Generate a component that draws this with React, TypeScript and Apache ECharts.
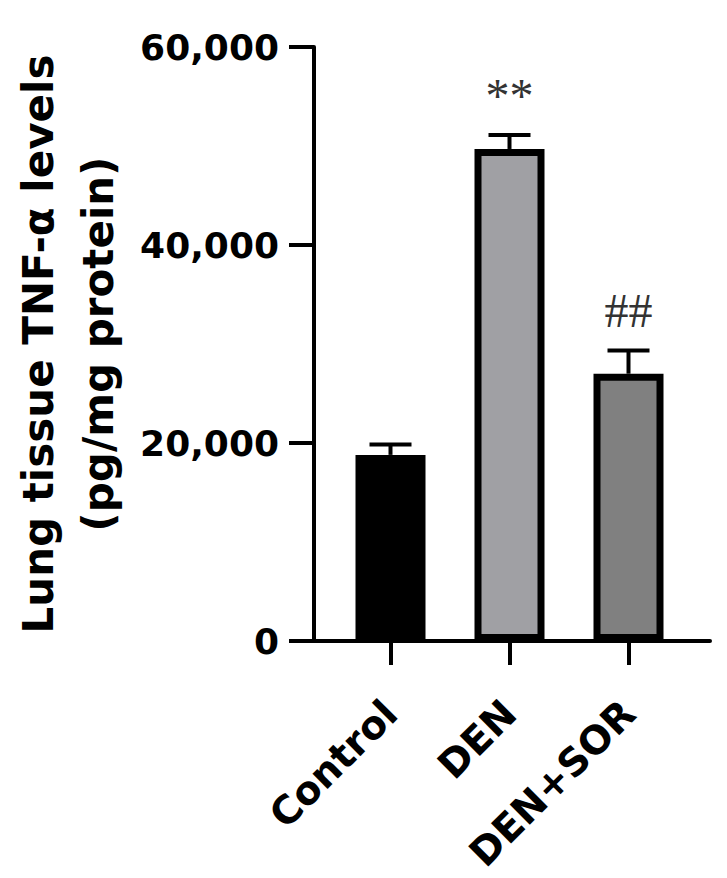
import React, { useEffect, useRef } from "react";
import * as echarts from "echarts";

const categories = ["Control", "DEN", "DEN+SOR"];
const means = [18800, 49700, 27000];
const sems = [1050, 1400, 2350];
const annotations = ["", "**", "##"];
const barColors = ["#000000", "#a0a0a4", "#808080"];
const yTicks = { min: 0, max: 60000, interval: 20000 };
const yTitle = "Lung tissue TNF-α levels\n(pg/mg protein)";

const SANS = "DejaVu Sans";
const SERIF = "Liberation Serif";

export default function App() {
  const ref = useRef<HTMLDivElement>(null);
  useEffect(() => {
    if (!ref.current) return;
    const chart = echarts.init(ref.current, undefined, { renderer: "svg" });
    const option: any = {
      animation: false,
      backgroundColor: "#ffffff",
      grid: [
        { left: 312, width: 398, top: 47, height: 594 },
        { left: 331, width: 357, top: 47, height: 594 },
      ],
      xAxis: [
        {
          gridIndex: 0,
          type: "value",
          min: 0,
          max: 1,
          axisLine: { show: true, lineStyle: { color: "#000", width: 4 } },
          axisTick: { show: false },
          axisLabel: { show: false },
          splitLine: { show: false },
        },
        {
          gridIndex: 1,
          type: "category",
          data: categories,
          axisLine: { show: false },
          axisTick: {
            show: true,
            alignWithLabel: true,
            length: 24,
            lineStyle: { color: "#000", width: 4 },
          },
          axisLabel: {
            rotate: 45,
            margin: 66,
            interval: 0,
            color: "#000",
            fontFamily: SANS,
            fontWeight: "bold",
            fontSize: 39,
          },
          splitLine: { show: false },
        },
      ],
      yAxis: [
        {
          gridIndex: 0,
          type: "value",
          min: yTicks.min,
          max: yTicks.max,
          interval: yTicks.interval,
          axisLine: { show: true, lineStyle: { color: "#000", width: 4 } },
          axisTick: { show: true, length: 25, lineStyle: { color: "#000", width: 4 } },
          axisLabel: {
            margin: 35,
            color: "#000",
            fontFamily: SANS,
            fontWeight: "bold",
            fontSize: 36,
            formatter: (v: number) => v.toLocaleString("en-US"),
          },
          splitLine: { show: false },
          name: yTitle,
          nameLocation: "middle",
          nameRotate: 90,
          nameGap: 186,
          nameTextStyle: {
            color: "#000",
            fontFamily: SANS,
            fontWeight: "bold",
            fontSize: 42,
            lineHeight: 60,
            align: "center",
          },
        },
        {
          gridIndex: 1,
          type: "value",
          min: yTicks.min,
          max: yTicks.max,
          show: false,
        },
      ],
      series: [
        {
          type: "bar",
          xAxisIndex: 1,
          yAxisIndex: 1,
          barWidth: 70,
          data: means.map((m, i) => ({
            value: m,
            itemStyle: { color: barColors[i], borderColor: "#000", borderWidth: 7 },
          })),
        },
        {
          type: "custom",
          xAxisIndex: 1,
          yAxisIndex: 1,
          z: 5,
          data: means.map((m, i) => [i, m, sems[i]]),
          renderItem: (params: any, api: any) => {
            const x = api.value(0);
            const m = api.value(1);
            const s = api.value(2);
            const p0 = api.coord([x, m]);
            const p1 = api.coord([x, m + s]);
            const half = 21;
            const children: any[] = [
              {
                type: "line",
                shape: { x1: p0[0], y1: p0[1], x2: p1[0], y2: p1[1] },
                style: { stroke: "#000", lineWidth: 4 },
              },
              {
                type: "line",
                shape: { x1: p1[0] - half, y1: p1[1], x2: p1[0] + half, y2: p1[1] },
                style: { stroke: "#000", lineWidth: 4 },
              },
            ];
            const txt = annotations[params.dataIndex];
            if (txt) {
              children.push({
                type: "text",
                x: p1[0],
                y: p1[1] - 40,
                style: {
                  text: txt,
                  fill: "#333",
                  font: `normal 48px '${SERIF}'`,
                  textAlign: "center",
                  textVerticalAlign: "middle",
                },
              });
            }
            return { type: "group", children };
          },
        },
      ],
    };
    chart.setOption(option);
    return () => chart.dispose();
  }, []);
  return (
    <div
      ref={ref}
      style={{ position: "fixed", left: 0, top: 0, width: 727, height: 878, background: "#fff" }}
    />
  );
}
